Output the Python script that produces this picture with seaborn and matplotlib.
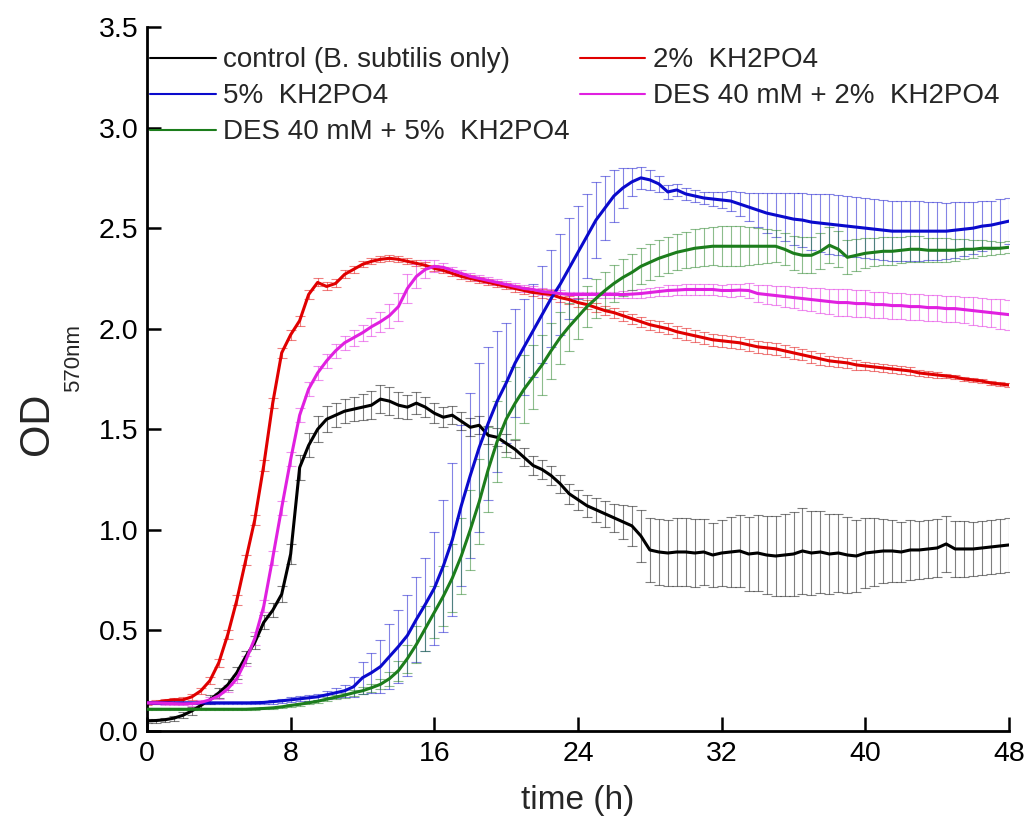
import numpy as np
import pandas as pd
import matplotlib
matplotlib.use("Agg")
import matplotlib.pyplot as plt
from matplotlib.lines import Line2D
import seaborn as sns

# ---------------- data ----------------
time = np.arange(0, 48.5, 0.5)

labels = ["control (B. subtilis only)", "2%  KH2PO4", "5%  KH2PO4",
          "DES 40 mM + 2%  KH2PO4", "DES 40 mM + 5%  KH2PO4"]
colors = ["#000000", "#e00000", "#0a0acc", "#e020e0", "#1c7d1c"]

control_mean = [
    0.050, 0.052, 0.056, 0.064, 0.078, 0.100, 0.127, 0.155, 0.190, 0.230,
    0.290, 0.370, 0.440, 0.540, 0.600, 0.680, 0.880, 1.310, 1.420, 1.500,
    1.550, 1.570, 1.590, 1.600, 1.610, 1.620, 1.650, 1.640, 1.620, 1.610,
    1.630, 1.610, 1.580, 1.560, 1.570, 1.540, 1.510, 1.520, 1.470, 1.460,
    1.430, 1.400, 1.360, 1.320, 1.300, 1.270, 1.230, 1.180, 1.150, 1.120,
    1.100, 1.080, 1.060, 1.040, 1.020, 0.970, 0.900, 0.890, 0.885, 0.890,
    0.890, 0.885, 0.890, 0.875, 0.885, 0.890, 0.895, 0.880, 0.885, 0.875,
    0.870, 0.875, 0.880, 0.895, 0.885, 0.890, 0.880, 0.885, 0.875, 0.870,
    0.885, 0.890, 0.895, 0.895, 0.890, 0.900, 0.900, 0.905, 0.910, 0.930,
    0.905, 0.905, 0.905, 0.910, 0.915, 0.920, 0.925]
control_sd = [
    0.010, 0.010, 0.010, 0.012, 0.015, 0.018, 0.020, 0.022, 0.025, 0.028,
    0.030, 0.030, 0.032, 0.035, 0.035, 0.040, 0.050, 0.060, 0.060, 0.065,
    0.065, 0.060, 0.060, 0.060, 0.065, 0.070, 0.070, 0.070, 0.065, 0.060,
    0.055, 0.050, 0.050, 0.050, 0.045, 0.045, 0.045, 0.045, 0.045, 0.045,
    0.045, 0.045, 0.045, 0.045, 0.045, 0.045, 0.045, 0.050, 0.050, 0.055,
    0.060, 0.065, 0.070, 0.085, 0.100, 0.130, 0.160, 0.165, 0.165, 0.170,
    0.170, 0.170, 0.165, 0.160, 0.165, 0.175, 0.180, 0.185, 0.190, 0.195,
    0.200, 0.205, 0.210, 0.215, 0.210, 0.205, 0.200, 0.195, 0.190, 0.180,
    0.175, 0.170, 0.160, 0.155, 0.150, 0.150, 0.145, 0.145, 0.145, 0.140,
    0.140, 0.140, 0.135, 0.135, 0.135, 0.135, 0.135]

kh2_mean = [
    0.140, 0.142, 0.150, 0.155, 0.155, 0.170, 0.200, 0.250, 0.340, 0.480,
    0.650, 0.850, 1.050, 1.320, 1.630, 1.880, 1.970, 2.040, 2.170, 2.230,
    2.210, 2.225, 2.270, 2.295, 2.320, 2.335, 2.345, 2.350, 2.345, 2.335,
    2.325, 2.315, 2.300, 2.290, 2.275, 2.260, 2.250, 2.240, 2.230, 2.220,
    2.210, 2.200, 2.190, 2.180, 2.175, 2.170, 2.155, 2.145, 2.130, 2.120,
    2.105, 2.090, 2.080, 2.065, 2.050, 2.035, 2.020, 2.010, 2.000, 1.985,
    1.975, 1.965, 1.955, 1.945, 1.940, 1.935, 1.930, 1.920, 1.910, 1.905,
    1.900, 1.890, 1.880, 1.870, 1.860, 1.850, 1.840, 1.835, 1.830, 1.820,
    1.815, 1.810, 1.805, 1.800, 1.795, 1.790, 1.780, 1.775, 1.770, 1.765,
    1.760, 1.750, 1.745, 1.740, 1.730, 1.725, 1.720]
kh2_sd = [
    0.010, 0.010, 0.010, 0.010, 0.012, 0.015, 0.015, 0.018, 0.020, 0.022,
    0.025, 0.025, 0.025, 0.025, 0.025, 0.025, 0.025, 0.025, 0.020, 0.020,
    0.020, 0.020, 0.020, 0.018, 0.015, 0.015, 0.015, 0.015, 0.015, 0.015,
    0.015, 0.015, 0.015, 0.015, 0.015, 0.015, 0.015, 0.015, 0.015, 0.015,
    0.015, 0.015, 0.015, 0.018, 0.020, 0.020, 0.020, 0.020, 0.022, 0.022,
    0.022, 0.022, 0.025, 0.025, 0.025, 0.025, 0.025, 0.028, 0.028, 0.030,
    0.030, 0.030, 0.030, 0.030, 0.030, 0.030, 0.030, 0.030, 0.030, 0.030,
    0.030, 0.030, 0.030, 0.028, 0.028, 0.028, 0.025, 0.025, 0.025, 0.025,
    0.022, 0.022, 0.020, 0.020, 0.018, 0.018, 0.015, 0.015, 0.015, 0.012,
    0.012, 0.010, 0.010, 0.010, 0.010, 0.010, 0.010]

kh5_mean = [
    0.140, 0.140, 0.140, 0.140, 0.140, 0.140, 0.140, 0.140, 0.140, 0.140,
    0.140, 0.140, 0.140, 0.142, 0.146, 0.150, 0.155, 0.160, 0.165, 0.170,
    0.180, 0.190, 0.200, 0.220, 0.265, 0.290, 0.320, 0.370, 0.420, 0.475,
    0.555, 0.630, 0.710, 0.820, 0.950, 1.120, 1.270, 1.410, 1.530, 1.640,
    1.730, 1.830, 1.910, 1.990, 2.070, 2.150, 2.220, 2.300, 2.380, 2.460,
    2.540, 2.600, 2.660, 2.700, 2.730, 2.750, 2.740, 2.720, 2.680, 2.690,
    2.670, 2.660, 2.650, 2.645, 2.640, 2.635, 2.620, 2.605, 2.590, 2.575,
    2.565, 2.555, 2.545, 2.540, 2.530, 2.525, 2.520, 2.515, 2.510, 2.505,
    2.500, 2.495, 2.490, 2.485, 2.485, 2.485, 2.485, 2.485, 2.485, 2.485,
    2.490, 2.495, 2.500, 2.510, 2.515, 2.525, 2.535]
kh5_sd = [
    0.005, 0.005, 0.005, 0.005, 0.005, 0.005, 0.005, 0.005, 0.005, 0.005,
    0.005, 0.005, 0.008, 0.008, 0.010, 0.010, 0.012, 0.012, 0.015, 0.015,
    0.020, 0.025, 0.030, 0.050, 0.080, 0.100, 0.130, 0.160, 0.180, 0.200,
    0.210, 0.230, 0.280, 0.330, 0.380, 0.400, 0.410, 0.420, 0.380, 0.350,
    0.300, 0.270, 0.240, 0.230, 0.240, 0.240, 0.250, 0.250, 0.230, 0.210,
    0.190, 0.160, 0.130, 0.100, 0.070, 0.055, 0.050, 0.040, 0.035, 0.030,
    0.030, 0.030, 0.030, 0.035, 0.040, 0.050, 0.060, 0.070, 0.085, 0.100,
    0.110, 0.120, 0.130, 0.135, 0.140, 0.145, 0.150, 0.150, 0.150, 0.150,
    0.150, 0.150, 0.150, 0.150, 0.150, 0.150, 0.150, 0.145, 0.145, 0.140,
    0.140, 0.135, 0.130, 0.125, 0.120, 0.120, 0.115]

des2_mean = [
    0.140, 0.140, 0.138, 0.136, 0.135, 0.136, 0.142, 0.155, 0.175, 0.210,
    0.260, 0.350, 0.460, 0.620, 0.860, 1.110, 1.350, 1.570, 1.700, 1.780,
    1.840, 1.890, 1.930, 1.955, 1.980, 2.010, 2.035, 2.065, 2.110, 2.200,
    2.260, 2.295, 2.310, 2.305, 2.290, 2.275, 2.260, 2.250, 2.240, 2.230,
    2.220, 2.210, 2.200, 2.195, 2.185, 2.180, 2.175, 2.170, 2.170, 2.170,
    2.170, 2.170, 2.170, 2.170, 2.172, 2.175, 2.180, 2.185, 2.190, 2.192,
    2.195, 2.195, 2.195, 2.195, 2.190, 2.190, 2.192, 2.190, 2.175, 2.170,
    2.165, 2.160, 2.155, 2.150, 2.145, 2.140, 2.135, 2.130, 2.130, 2.125,
    2.125, 2.120, 2.120, 2.115, 2.115, 2.110, 2.110, 2.105, 2.105, 2.100,
    2.100, 2.095, 2.090, 2.085, 2.080, 2.075, 2.070]
des2_sd = [
    0.008, 0.008, 0.008, 0.008, 0.008, 0.010, 0.010, 0.012, 0.015, 0.018,
    0.020, 0.025, 0.030, 0.030, 0.035, 0.035, 0.035, 0.035, 0.035, 0.035,
    0.035, 0.035, 0.035, 0.040, 0.040, 0.045, 0.050, 0.060, 0.070, 0.070,
    0.060, 0.045, 0.030, 0.020, 0.015, 0.015, 0.015, 0.015, 0.015, 0.015,
    0.015, 0.015, 0.015, 0.015, 0.015, 0.015, 0.015, 0.015, 0.015, 0.015,
    0.015, 0.015, 0.015, 0.018, 0.020, 0.020, 0.022, 0.022, 0.025, 0.025,
    0.025, 0.025, 0.025, 0.025, 0.025, 0.030, 0.030, 0.035, 0.040, 0.045,
    0.045, 0.050, 0.050, 0.055, 0.055, 0.060, 0.060, 0.065, 0.065, 0.065,
    0.065, 0.065, 0.065, 0.065, 0.065, 0.065, 0.065, 0.065, 0.065, 0.065,
    0.065, 0.065, 0.070, 0.070, 0.070, 0.075, 0.075]

des5_mean = [
    0.108, 0.108, 0.108, 0.108, 0.108, 0.108, 0.108, 0.108, 0.108, 0.108,
    0.108, 0.108, 0.110, 0.112, 0.115, 0.120, 0.127, 0.133, 0.140, 0.148,
    0.158, 0.168, 0.178, 0.190, 0.200, 0.215, 0.232, 0.260, 0.300, 0.360,
    0.430, 0.510, 0.590, 0.670, 0.760, 0.870, 1.000, 1.140, 1.300, 1.440,
    1.550, 1.630, 1.700, 1.760, 1.820, 1.890, 1.955, 2.010, 2.060, 2.110,
    2.150, 2.190, 2.225, 2.255, 2.280, 2.310, 2.330, 2.350, 2.365, 2.380,
    2.390, 2.400, 2.405, 2.410, 2.410, 2.410, 2.410, 2.410, 2.410, 2.410,
    2.410, 2.395, 2.375, 2.365, 2.365, 2.385, 2.415, 2.395, 2.355, 2.365,
    2.375, 2.380, 2.385, 2.385, 2.390, 2.395, 2.395, 2.390, 2.390, 2.390,
    2.390, 2.395, 2.395, 2.400, 2.400, 2.400, 2.405]
des5_sd = [
    0.005, 0.005, 0.005, 0.005, 0.005, 0.005, 0.005, 0.005, 0.005, 0.005,
    0.005, 0.005, 0.005, 0.005, 0.005, 0.006, 0.006, 0.007, 0.008, 0.008,
    0.010, 0.010, 0.012, 0.015, 0.018, 0.020, 0.025, 0.035, 0.050, 0.070,
    0.090, 0.110, 0.130, 0.150, 0.170, 0.190, 0.200, 0.210, 0.210, 0.200,
    0.190, 0.180, 0.170, 0.160, 0.150, 0.140, 0.130, 0.120, 0.110, 0.100,
    0.095, 0.090, 0.090, 0.090, 0.090, 0.090, 0.090, 0.090, 0.090, 0.090,
    0.090, 0.095, 0.095, 0.095, 0.100, 0.100, 0.100, 0.095, 0.090, 0.085,
    0.080, 0.080, 0.085, 0.090, 0.090, 0.090, 0.090, 0.090, 0.085, 0.080,
    0.075, 0.070, 0.070, 0.070, 0.065, 0.065, 0.065, 0.060, 0.060, 0.060,
    0.055, 0.050, 0.045, 0.040, 0.035, 0.030, 0.030]

x_ticks = [0, 8, 16, 24, 32, 40, 48]
y_ticks = [0.0, 0.5, 1.0, 1.5, 2.0, 2.5, 3.0, 3.5]

means = [control_mean, kh2_mean, kh5_mean, des2_mean, des5_mean]
sds = [control_sd, kh2_sd, kh5_sd, des2_sd, des5_sd]

# ---------------- build long table ----------------
frames = []
for lab, m, s in zip(labels, means, sds):
    frames.append(pd.DataFrame({"time": time, "OD": m, "sd": s, "series": lab}))
df = pd.concat(frames, ignore_index=True)

# ---------------- style ----------------
sns.set_style("ticks")
plt.rcParams["font.family"] = ["Liberation Sans", "DejaVu Sans"]

fig = plt.figure(figsize=(10.28, 8.25), dpi=100)
ax = fig.add_axes([147 / 1028, 94 / 825, 862 / 1028, 704 / 825])

palette = dict(zip(labels, colors))

# error bars (thin, light)
for lab in labels:
    sub = df[df["series"] == lab]
    ax.errorbar(sub["time"], sub["OD"], yerr=sub["sd"], fmt="none",
                ecolor=palette[lab], elinewidth=0.8, capsize=3.8,
                capthick=0.8, alpha=0.5, zorder=1)

sns.lineplot(data=df, x="time", y="OD", hue="series", hue_order=labels,
             palette=palette, linewidth=2.2, legend=False, errorbar=None,
             ax=ax, zorder=3)

ax.set_xlim(0, 48)
ax.set_ylim(0, 3.5)
ax.set_xticks(x_ticks)
ax.set_xticklabels([str(v) for v in x_ticks])
ax.set_yticks(y_ticks)
ax.set_yticklabels([f"{v:.1f}" for v in y_ticks])

sns.despine(ax=ax)
for side in ["left", "bottom"]:
    ax.spines[side].set_linewidth(2.0)
    ax.spines[side].set_color("black")

ax.tick_params(axis="both", direction="in", length=10, width=1.8,
               labelsize=20.5, colors="black")
ax.tick_params(axis="x", pad=7)
ax.tick_params(axis="y", pad=6)

ax.set_xlabel("time (h)", fontsize=24, labelpad=13)
ax.set_ylabel("")

# y label: "OD" with a lowered, smaller "570nm" subscript
fig.text(48 / 1028, 1 - 455 / 825, "OD", rotation=90, rotation_mode="anchor",
         ha="left", va="baseline", fontsize=30)
fig.text(79 / 1028, 1 - 392 / 825, "570nm", rotation=90, rotation_mode="anchor",
         ha="left", va="baseline", fontsize=16)

# legend: column-major order for 2 columns
order = [0, 2, 4, 1, 3]
handles = [Line2D([0], [0], color=colors[i], lw=1.5) for i in order]
leg = ax.legend(handles, [labels[i] for i in order], ncol=2, loc="upper left",
                bbox_to_anchor=(0.004, 0.971), frameon=False, fontsize=20,
                handlelength=2.35, handletextpad=0.26, columnspacing=0.38,
                labelspacing=0.36, borderpad=0, borderaxespad=0)

fig.savefig("out.png", dpi=100)
